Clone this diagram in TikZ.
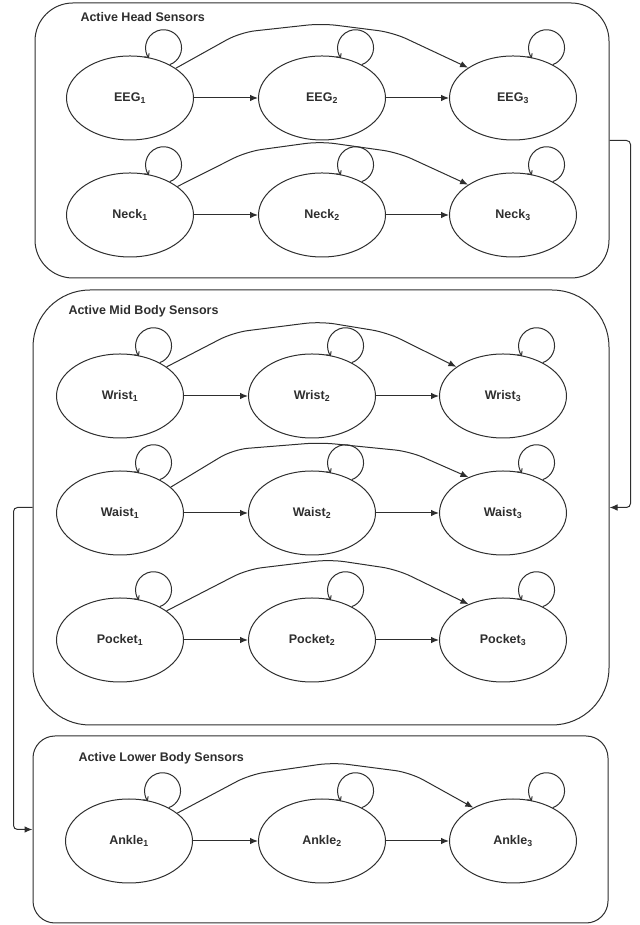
\documentclass[tikz,border=0pt]{standalone}
\usepackage{fontspec}
\setmainfont{Liberation Sans}
\usetikzlibrary{shapes.geometric,arrows.meta,calc,positioning}

\tikzset{
  sensor/.style={draw, ellipse, minimum width=127pt, minimum height=84pt, inner sep=0pt,
    font=\bfseries\fontsize{12.5}{14}\selectfont},
  group/.style={draw, rounded corners=#1, inner sep=0pt},
  grouptitle/.style={anchor=west, inner sep=0pt, font=\bfseries\fontsize{12.5}{14}\selectfont},
  flow/.style={-{Latex[length=8pt,width=6.5pt]}},
  longarc/.style={flow, rounded corners=15pt},
  selfloop/.style={-{Straight Barb[length=3pt,width=6pt]},
    to path={(\tikztostart.40) arc[start angle=-70, end angle=215, radius=18pt]}},
}

\begin{document}
\begin{tikzpicture}[x=1pt,y=1pt,line width=1pt,color=black!82]
  \useasboundingbox (0,0) rectangle (639,925);

  % groups
  \node[group=38pt, minimum width=574pt, minimum height=275pt] (head) at (322,784.5) {};
  \node[group=57pt, minimum width=576pt, minimum height=435pt] (mid) at (321,417.5) {};
  \node[group=22pt, minimum width=575pt, minimum height=187pt] (low) at (320.5,95.5) {};
  \node[grouptitle] (headtitle) at (80,908) {Active Head Sensors};
  \node[grouptitle] (midtitle) at (68,614) {Active Mid Body Sensors};
  \node[grouptitle] (lowtitle) at (78,167) {Active Lower Body Sensors};

  % head sensors
  \node[sensor] (eeg1) at (130,827) {EEG\textsubscript{1}};
  \node[sensor] (eeg2) at (322,827) {EEG\textsubscript{2}};
  \node[sensor] (eeg3) at (513,827) {EEG\textsubscript{3}};
  \node[sensor] (neck1) at (130,710) {Neck\textsubscript{1}};
  \node[sensor] (neck2) at (322,710) {Neck\textsubscript{2}};
  \node[sensor] (neck3) at (513,710) {Neck\textsubscript{3}};

  % mid body sensors
  \node[sensor] (wrist1) at (120,529) {Wrist\textsubscript{1}};
  \node[sensor] (wrist2) at (312,529) {Wrist\textsubscript{2}};
  \node[sensor] (wrist3) at (503,529) {Wrist\textsubscript{3}};
  \node[sensor] (waist1) at (120,412) {Waist\textsubscript{1}};
  \node[sensor] (waist2) at (312,412) {Waist\textsubscript{2}};
  \node[sensor] (waist3) at (503,412) {Waist\textsubscript{3}};
  \node[sensor] (pocket1) at (120,285) {Pocket\textsubscript{1}};
  \node[sensor] (pocket2) at (312,285) {Pocket\textsubscript{2}};
  \node[sensor] (pocket3) at (503,285) {Pocket\textsubscript{3}};

  % lower body sensors
  \node[sensor] (ankle1) at (129,84) {Ankle\textsubscript{1}};
  \node[sensor] (ankle2) at (322,84) {Ankle\textsubscript{2}};
  \node[sensor] (ankle3) at (513,84) {Ankle\textsubscript{3}};

  % transitions
  \draw[flow] (eeg1) -- (eeg2);
  \draw[flow] (eeg2) -- (eeg3);
  \draw[flow] (neck1) -- (neck2);
  \draw[flow] (neck2) -- (neck3);
  \draw[flow] (wrist1) -- (wrist2);
  \draw[flow] (wrist2) -- (wrist3);
  \draw[flow] (waist1) -- (waist2);
  \draw[flow] (waist2) -- (waist3);
  \draw[flow] (pocket1) -- (pocket2);
  \draw[flow] (pocket2) -- (pocket3);
  \draw[flow] (ankle1) -- (ankle2);
  \draw[flow] (ankle2) -- (ankle3);

  \draw[longarc] (eeg1.33) -- ($(eeg2.north)+(-82,23)$) -- ($(eeg2.north)+(0,32)$) -- ($(eeg2.north)+(71,23)$) -- (eeg3.146);
  \draw[longarc] (neck1.31) -- ($(neck2.north)+(-75,21)$) -- ($(neck2.north)+(-2,31)$) -- ($(neck2.north)+(76,20)$) -- (neck3.146);
  \draw[longarc] (wrist1.32) -- ($(wrist2.north)+(-79,21)$) -- ($(wrist2.north)+(8,32)$) -- ($(wrist2.north)+(75,21)$) -- (wrist3.148);
  \draw[longarc] (waist1.27) -- ($(waist2.north)+(-79,21)$) -- ($(waist2.north)+(8,28)$) -- ($(waist2.north)+(98,19)$) -- (waist3.134);
  \draw[longarc] (pocket1.32) -- ($(pocket2.north)+(-65,28)$) -- ($(pocket2.north)+(18,38)$) -- ($(pocket2.north)+(85,28)$) -- (pocket3.134);
  \draw[longarc] (ankle1.30) -- ($(ankle2.north)+(-72,24)$) -- ($(ankle2.north)+(11,36)$) -- ($(ankle2.north)+(88,26)$) -- (ankle3.140);

  % self loops
  \draw[selfloop] (eeg1) to (eeg1);
  \draw[selfloop] (eeg2) to (eeg2);
  \draw[selfloop] (eeg3) to (eeg3);
  \draw[selfloop] (neck1) to (neck1);
  \draw[selfloop] (neck2) to (neck2);
  \draw[selfloop] (neck3) to (neck3);
  \draw[selfloop] (wrist1) to (wrist1);
  \draw[selfloop] (wrist2) to (wrist2);
  \draw[selfloop] (wrist3) to (wrist3);
  \draw[selfloop] (waist1) to (waist1);
  \draw[selfloop] (waist2) to (waist2);
  \draw[selfloop] (waist3) to (waist3);
  \draw[selfloop] (pocket1) to (pocket1);
  \draw[selfloop] (pocket2) to (pocket2);
  \draw[selfloop] (pocket3) to (pocket3);
  \draw[selfloop] (ankle1) to (ankle1);
  \draw[selfloop] (ankle2) to (ankle2);
  \draw[selfloop] (ankle3) to (ankle3);

  % links between groups
  \draw[flow, rounded corners=4pt] (head.east) -- ++(21,0) |- (mid.east);
  \draw[flow, rounded corners=4pt] (mid.west) -- ++(-19,0) |- (low.west);
\end{tikzpicture}
\end{document}
